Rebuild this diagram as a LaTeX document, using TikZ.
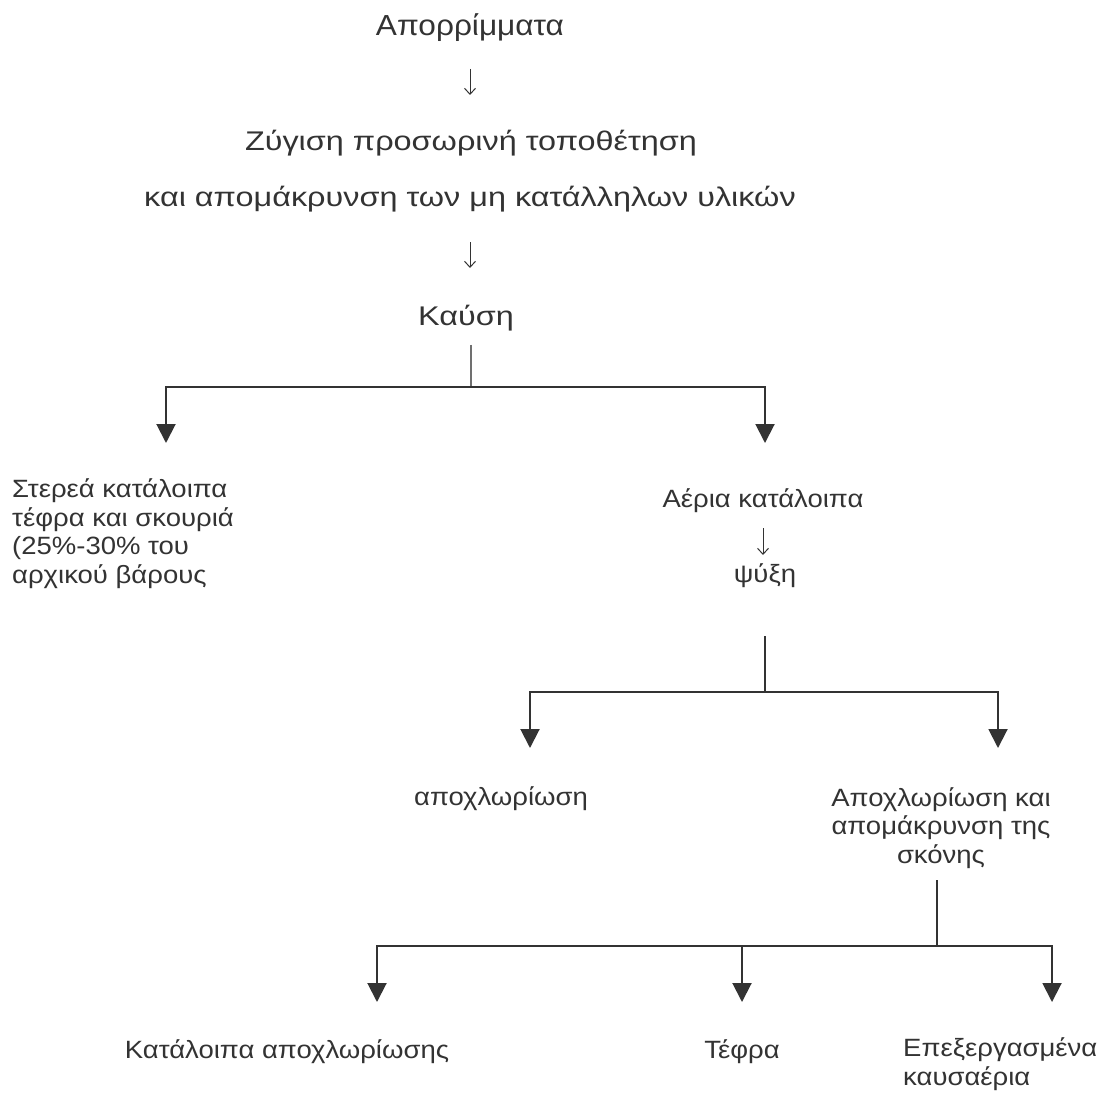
\documentclass[tikz,border=0pt]{standalone}
\usepackage{fontspec}
\setmainfont{Liberation Sans}
\newfontfamily\bigfam[FakeStretch=1.09]{Liberation Sans}
\newfontfamily\midfam[FakeStretch=1.2]{Liberation Sans}
\newfontfamily\smlfam[FakeStretch=1.1]{Liberation Sans}
\usetikzlibrary{arrows.meta,calc}
\definecolor{ink}{HTML}{333333}
\begin{document}
\begin{tikzpicture}[x=1pt,y=-1pt,
  txt/.style={inner sep=0pt, text=ink},
  big/.style={txt, font=\bigfam\fontsize{29}{34}\selectfont},
  mid/.style={txt, font=\midfam\fontsize{27}{32}\selectfont},
  sml/.style={txt, font=\smlfam\fontsize{25}{28.5}\selectfont},
  thinarr/.style={draw=ink, line width=1pt, -{Straight Barb[length=6pt,width=11pt]}},
  flow/.style={draw=ink, line width=2pt, line join=miter, -{Triangle[length=19pt,width=19pt]}},
  link/.style={draw=ink, line width=2pt}]
\useasboundingbox[fill=white] (0,0) rectangle (1105,1094);

% top chain
\node[big, anchor=base] (a) at (470,36) {Απορρίμματα};
\node[mid, anchor=base] (z1) at (471,151) {Ζύγιση προσωρινή τοποθέτηση};
\node[mid, anchor=base] (z2) at (470,207) {και απομάκρυνση των μη κατάλληλων υλικών};
\node[mid, anchor=base] (k) at (466,325) {Καύση};

\coordinate (a1) at (470,69);  \coordinate (a2) at (470,95);
\coordinate (b1) at (470,242); \coordinate (b2) at (470,268);
\draw[thinarr] (a1) -- (a2);
\draw[thinarr] (b1) -- (b2);

% first split
\node[sml, anchor=base west, align=left] (s) at (12,583)
  {Στερεά κατάλοιπα\\τέφρα και σκουριά\\(25\%-30\% του\\αρχικού βάρους};
\node[sml, anchor=base] (g) at (763,507) {Αέρια κατάλοιπα};
\node[sml, anchor=base] (p) at (765,582) {ψύξη};
\coordinate (c1) at (763,528); \coordinate (c2) at (763,555);
\draw[thinarr] (c1) -- (c2);

\coordinate (j1) at (471,387);
\coordinate (l1) at (166,387); \coordinate (l1e) at (166,443);
\coordinate (r1) at (765,387); \coordinate (r1e) at (765,443);
\draw[link, draw=ink!70, shorten <=14pt] (k.south -| j1) -- (j1);
\draw[flow] (j1) -- (l1) -- (l1e);
\draw[flow] (j1) -- (r1) -- (r1e);

% second split
\node[sml, anchor=base] (d1) at (501,805) {αποχλωρίωση};
\node[sml, anchor=base, align=center] (d2) at (941,863)
  {Αποχλωρίωση και\\απομάκρυνση της\\σκόνης};

\coordinate (t2) at (765,636);
\coordinate (j2) at (765,692);
\coordinate (l2) at (530,692); \coordinate (l2e) at (530,748);
\coordinate (r2) at (998,692); \coordinate (r2e) at (998,748);
\draw[link, line width=1.2pt] (t2) -- (j2);
\draw[flow] (j2) -- (l2) -- (l2e);
\draw[flow] (j2) -- (r2) -- (r2e);

% third split
\node[sml, anchor=base] (e1) at (287,1058) {Κατάλοιπα αποχλωρίωσης};
\node[sml, anchor=base] (e2) at (742,1058) {Τέφρα};
\node[sml, anchor=base west, align=left] (e3) at (903,1085) {Επεξεργασμένα\\καυσαέρια};

\coordinate (t3) at (937,880);
\coordinate (j3) at (937,946);
\coordinate (l3) at (377,946); \coordinate (l3e) at (377,1002);
\coordinate (m3) at (742,946); \coordinate (m3e) at (742,1002);
\coordinate (r3) at (1052,946); \coordinate (r3e) at (1052,1002);
\draw[link, line width=1.2pt] (t3) -- (j3);
\draw[flow] (j3) -- (l3) -- (l3e);
\draw[flow] (m3) -- (m3e);
\draw[flow] (j3) -- (r3) -- (r3e);
\end{tikzpicture}
\end{document}
